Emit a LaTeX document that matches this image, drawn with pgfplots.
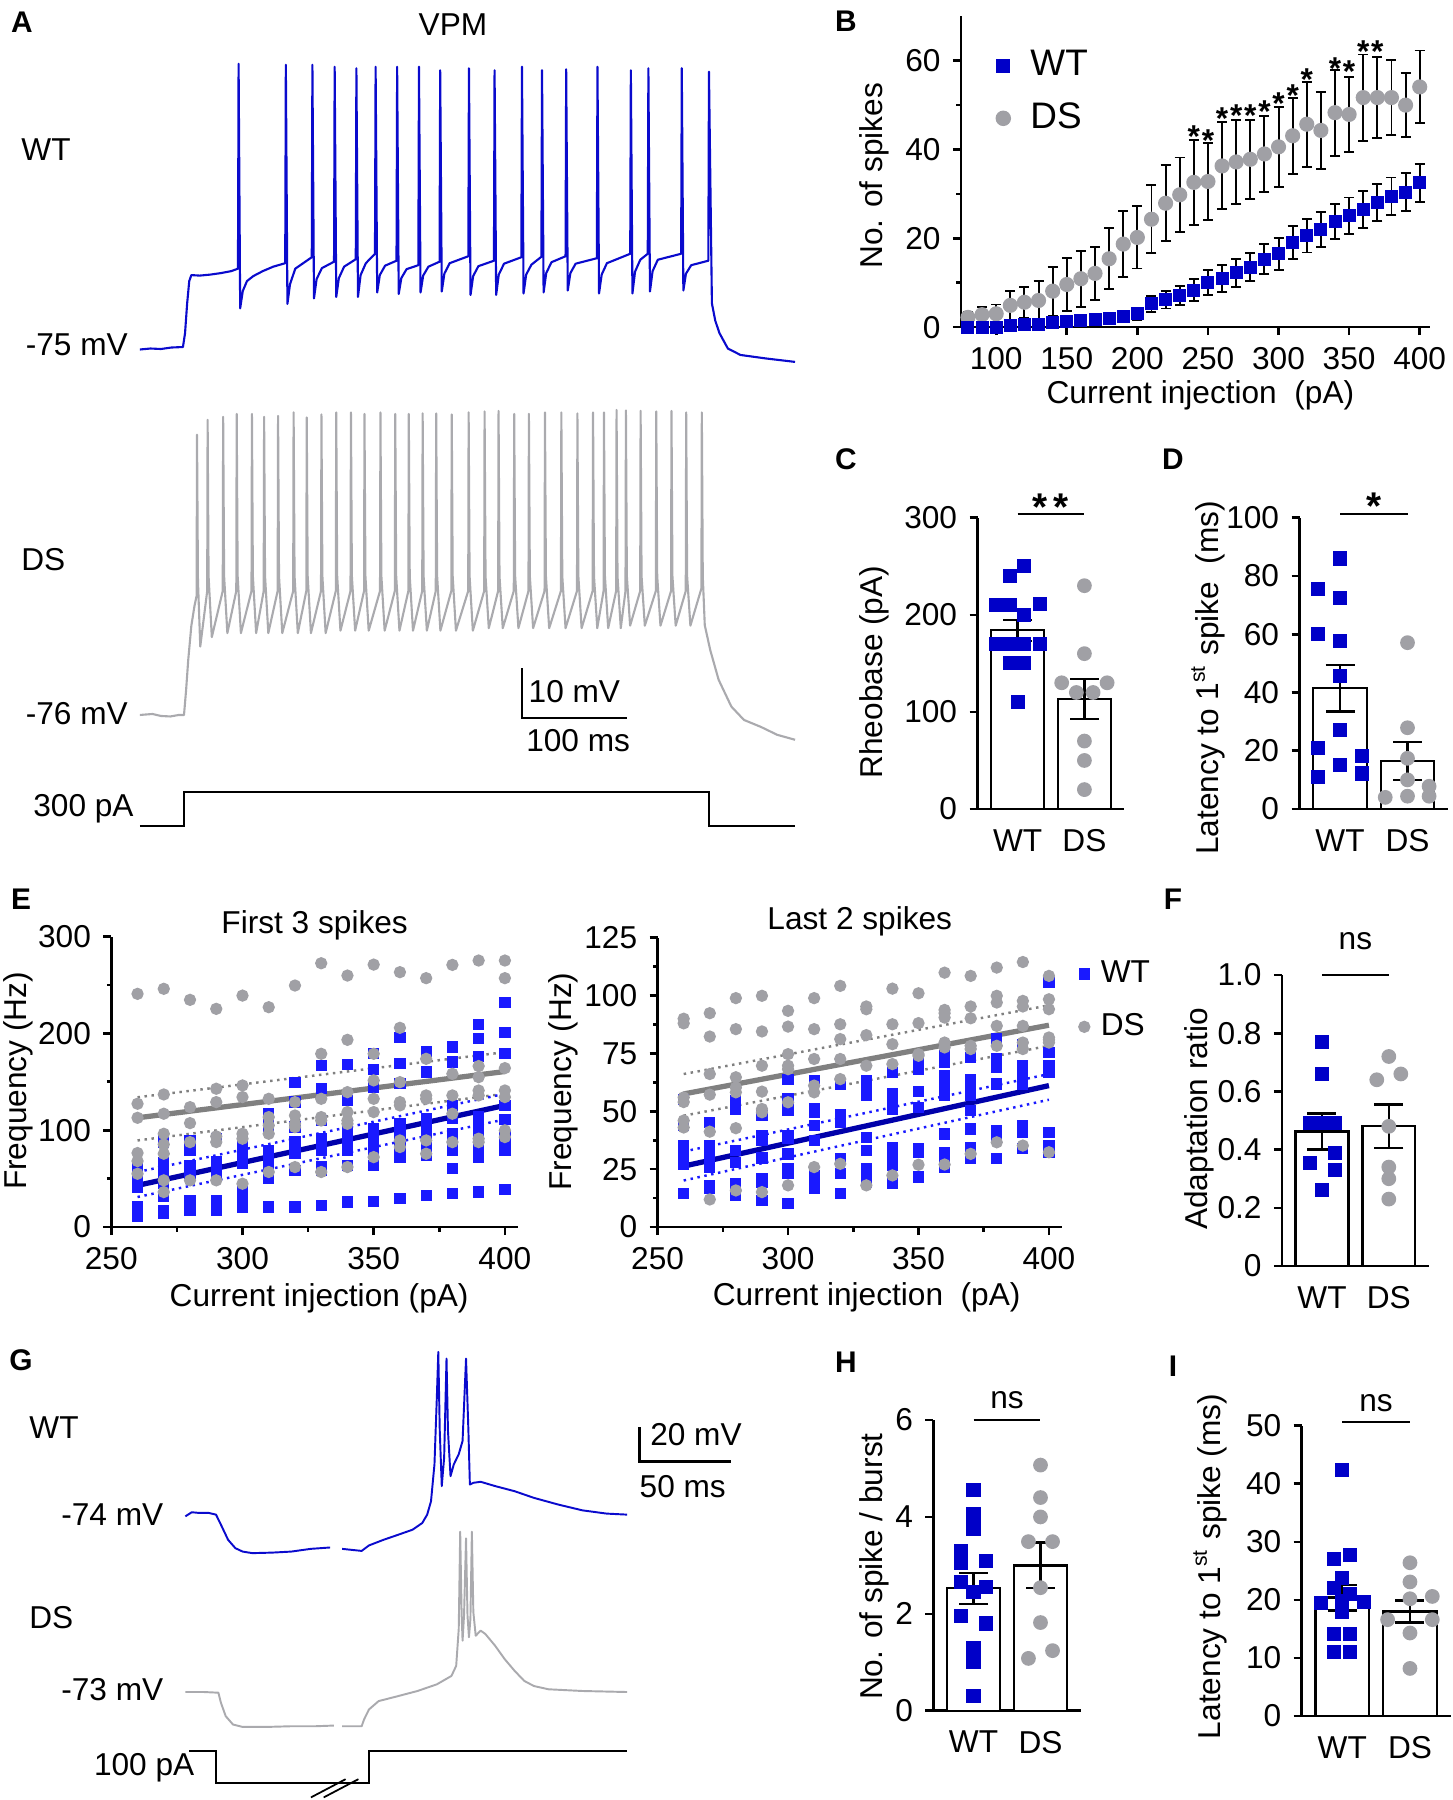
\documentclass[border=0pt]{standalone}
\usepackage{fontspec}
\setmainfont{Liberation Sans}
\usepackage{pgfplots}
\pgfplotsset{compat=1.18}

\definecolor{wtblue}{RGB}{0,0,200}
\definecolor{dsgray}{RGB}{160,160,165}
\definecolor{tblue}{RGB}{10,10,205}
\definecolor{tgray}{RGB}{170,170,174}
\definecolor{eblue}{RGB}{25,25,255}
\definecolor{lblue}{RGB}{0,0,170}
\definecolor{lgray}{RGB}{128,128,128}

\newcommand{\fs}{\fontsize{9}{10.8}\selectfont}

\pgfplotsset{
  gp/.style={scale only axis, anchor=south west, clip=false,
    axis lines=left, axis line style={-, line width=0.75pt, black},
    tick align=outside, major tick length=0.8mm, minor tick length=0.45mm,
    tick style={black, line width=0.75pt},
    tick label style={font=\fs, black},
    label style={font=\fs},
    /pgf/number format/assume math mode=true},
  barax/.style={gp, xmin=0.4, xmax=2.6, ymin=0, xtick={1,2}, xticklabels={WT,DS},
    xtick style={draw=none}},
  bars/.style={ybar, bar width=0.79, bar shift=0pt, fill=white, draw=black, line width=0.65pt},
  sem/.style={draw=none, mark=none,
    error bars/y dir=both, error bars/y explicit,
    error bars/error bar style={draw=black, line width=0.65pt},
    error bars/error mark options={draw=black, rotate=90, line width=0.65pt, mark size=1.45mm}},
  bsem/.style={error bars/y dir=both, error bars/y explicit,
    error bars/error bar style={draw=black, line width=0.55pt},
    error bars/error mark options={draw=black, rotate=90, line width=0.55pt, mark size=0.5mm}},
  wtpts/.style={only marks, mark=square*, mark size=1.8pt, mark options={draw=wtblue, fill=wtblue}},
  dspts/.style={only marks, mark=*, mark size=1.9pt, mark options={draw=dsgray, fill=dsgray}},
  ewt/.style={only marks, mark=square*, mark size=1.4pt, mark options={draw=eblue, fill=eblue}},
  eds/.style={only marks, mark=*, mark size=1.55pt, mark options={draw=dsgray, fill=dsgray}},
  sig/.style={black, line width=0.65pt, mark=none},
  trace/.style={hide axis, anchor=south west, clip=false},
}

\begin{document}
\begin{tikzpicture}[font=\fs]
\path[use as bounding box] (0,0) rectangle (145.3mm,-180mm);

% panel letters
\foreach \l/\x/\y in {A/2.2/-2.2, B/84.6/-2.1, C/84.6/-45.9, D/117.3/-45.9, E/2.1/-89.9, F/117.3/-89.9, G/2.1/-136.0, H/84.6/-136.2, I/117.3/-136.6}
  \node[font=\bfseries\fontsize{8.5}{10}\selectfont] at (\x mm,\y mm) {\l};

% panel A and G texts
\begin{scope}[every node/.style={inner sep=0pt}]
\node at (45.3mm,-2.5mm) {VPM};
\node[anchor=west] at (2.07mm,-14.92mm) {WT};
\node[anchor=east] at (12.85mm,-34.43mm) {-75 mV};
\node[anchor=west] at (2.07mm,-56.0mm) {DS};
\node[anchor=east] at (12.85mm,-71.39mm) {-76 mV};
\node[anchor=west] at (52.8mm,-69.2mm) {10 mV};
\node[anchor=west] at (52.56mm,-74.03mm) {100 ms};
\node[anchor=east] at (13.43mm,-80.9mm) {300 pA};
\node[anchor=west] at (2.87mm,-142.8mm) {WT};
\node[anchor=east] at (16.4mm,-151.5mm) {-74 mV};
\node[anchor=west] at (2.87mm,-161.8mm) {DS};
\node[anchor=east] at (16.4mm,-169.0mm) {-73 mV};
\node[anchor=east] at (19.5mm,-176.75mm) {100 pA};
\node[anchor=west] at (64.96mm,-143.46mm) {20 mV};
\node[anchor=west] at (63.9mm,-148.63mm) {50 ms};
\end{scope}

% ---------------- A: WT trace
\begin{axis}[trace, at={(13.99mm,-37.28mm)}, x=0.105mm, y=0.496mm, xmin=-42, xmax=582, ymin=-80, ymax=-15]
\addplot[tblue, line width=0.6pt, line join=round] coordinates {
(-42,-75.3) (-32,-75.1) (-22,-75.2) (-12,-74.9) (-1,-74.8) (1,-72) (3,-66) (5,-61.5) (7,-60.3) (15,-60.4) (25,-60.2) (35,-59.9) (45,-59.5) (51.4,-59)
(52,-17.7) (53.5,-67) (56,-63.5) (60,-61.5) (66,-60.5) (75,-59.5) (85,-58.6) (96.4,-57.9)
(97,-17.9) (98.5,-66.1) (101,-62.1) (106,-59) (121.7,-56.7)
(122.3,-17.9) (123.8,-65) (126.3,-61.1) (131.3,-58.9) (142.9,-57.6)
(143.5,-18.3) (145,-64.7) (147.5,-60.9) (152.5,-58.6) (163.6,-57.1)
(164.2,-18.6) (165.7,-64.7) (168.2,-60.3) (173.2,-57.9) (181.9,-56)
(182.5,-18.3) (184,-63.8) (186.5,-60.3) (191.5,-58.4) (202.4,-57.4)
(203,-18.3) (204.5,-64.1) (207,-60.9) (212,-59.1) (223.2,-58.3)
(223.8,-18.3) (225.3,-63.8) (227.8,-60.4) (232.8,-58.6) (243.4,-57.6)
(244,-19) (245.5,-63.6) (248,-60) (253,-57.9) (270.8,-56.5)
(271.4,-18.6) (272.9,-64.3) (275.4,-60.5) (280.4,-58.5) (295.2,-57.4)
(295.8,-19) (297.3,-64.3) (299.8,-60.2) (304.8,-58) (321.3,-56.7)
(321.9,-18.3) (323.4,-64) (325.9,-60.2) (330.9,-58.2) (340.4,-56.6)
(341,-19) (342.5,-63.8) (345,-59.9) (350,-57.7) (363.4,-56.5)
(364,-18.8) (365.5,-63.4) (368,-59.9) (373,-58) (393.2,-56.9)
(393.8,-18.3) (395.3,-64) (397.8,-60.2) (402.8,-57.9) (425,-56)
(425.6,-19) (427.1,-64) (429.6,-59.6) (434.6,-57.2) (441.7,-56)
(442.3,-18.6) (443.8,-63.6) (446.3,-59.5) (451.3,-57.2) (473.5,-56)
(474.1,-18.6) (475.6,-63.4) (478.1,-60) (483.1,-58.3) (499.4,-57.4)
(500,-19.3) (502.8,-66) (506,-69.5) (510,-72) (518,-75.1) (530,-76.4) (554,-77.1) (582,-77.8)
};
\end{axis}

% ---------------- A: DS trace + scale bar
\begin{axis}[trace, at={(13.99mm,-75.96mm)}, x=0.105mm, y=0.496mm, xmin=-42, xmax=582, ymin=-85, ymax=-10]
\addplot[tgray, line width=0.6pt, line join=round] coordinates {
(-42,-76) (-30,-75.8) (-22,-76.2) (-13,-76.3) (-5,-76) (0,-76) (2,-71) (4,-65) (7,-58) (10,-54) (12,-52)
(12.4,-19.5) (13.3,-49) (15.5,-62.2) (22.1,-51)
(22.5,-16.5) (23.4,-48) (26.5,-60.3) (36.9,-51)
(37.3,-15.9) (38.2,-48) (41.3,-59.5) (49.8,-51)
(50.2,-15.3) (51.1,-48) (54.2,-59.5) (64.3,-51)
(64.7,-15.3) (65.6,-48) (68.7,-59.5) (75.9,-51)
(76.3,-15.9) (77.2,-48) (80.3,-59.5) (89.2,-51)
(89.6,-15.7) (90.5,-48) (93.6,-59.5) (104,-51)
(104.4,-15) (105.3,-48) (108.4,-59.5) (116.5,-51)
(116.9,-16) (117.8,-48) (120.9,-59.5) (130.5,-51)
(130.9,-15.4) (131.8,-48) (134.9,-59.5) (144.6,-51)
(145,-15) (145.9,-48) (149,-59) (158.6,-51)
(159,-15) (159.9,-48) (163,-59) (171.5,-51)
(171.9,-15.3) (172.8,-48) (175.9,-59) (186.7,-51)
(187.1,-15) (188,-48) (191.1,-59) (200.8,-51)
(201.2,-15.3) (202.1,-48) (205.2,-59) (213.7,-51)
(214.1,-15.3) (215,-48) (218.1,-59) (226.9,-51)
(227.3,-15.2) (228.2,-48) (231.3,-59) (239.8,-51)
(240.2,-15.2) (241.1,-48) (244.2,-59) (254.6,-51)
(255,-15.4) (255.9,-48) (259,-59) (270.7,-51)
(271.1,-15) (272,-48) (275.1,-59) (285.9,-51)
(286.3,-14.8) (287.2,-48) (290.3,-58.5) (299.2,-51)
(299.6,-14.7) (300.5,-48) (303.6,-58.5) (314.1,-51)
(314.5,-15.3) (315.4,-48) (318.5,-58.5) (328.1,-51)
(328.5,-15.3) (329.4,-48) (332.5,-58.5) (343.4,-51)
(343.8,-15) (344.7,-48) (347.8,-58.5) (359,-51)
(359.4,-15) (360.3,-48) (363.4,-58.5) (374.3,-51)
(374.7,-15.2) (375.6,-48) (378.7,-58.5) (389.2,-51)
(389.6,-15) (390.5,-48) (393.6,-58.5) (399.6,-51)
(400,-15) (400.9,-48) (404,-58.5) (411.6,-51)
(412,-14.5) (412.9,-48) (416,-58.5) (420.5,-51)
(420.9,-14.6) (421.8,-48) (424.9,-58) (434.5,-51)
(434.9,-14.7) (435.8,-48) (438.9,-58) (449.4,-51)
(449.8,-14.8) (450.7,-48) (453.8,-58) (463.9,-51)
(464.3,-14.7) (465.2,-48) (468.3,-58) (477.9,-51)
(478.3,-15) (479.2,-48) (482.3,-58) (492.8,-50.5)
(493.2,-15) (494.1,-48) (496,-57.9) (501.2,-62.9) (509.2,-68.9) (521.3,-74.3) (533.3,-77) (549.4,-78.4) (565,-80) (582,-81)
};
\addplot[black, line width=0.7pt] coordinates {(322,-66.6) (322,-76.6) (422,-76.6)};
\end{axis}

% ---------------- A: stimulus
\begin{axis}[trace, at={(13.99mm,-82.83mm)}, x=0.105mm, y=0.01133mm, xmin=-42, xmax=582, ymin=-20, ymax=320]
\addplot[black, line width=0.75pt] coordinates {(-42,0) (0,0) (0,300) (500,300) (500,0) (582,0)};
\end{axis}

% ---------------- B
\begin{axis}[gp, at={(96.09mm,-32.71mm)}, width=46.87mm, height=31.08mm,
  xmin=75, xmax=407, ymin=0, ymax=70,
  xtick={100,150,...,400}, ytick={0,20,40,60}, minor ytick={10,30,50},
  xlabel={Current injection\ \ (pA)}, ylabel={No. of spikes},
  every axis x label/.style={at={(axis description cs:0.511,-0.218)}, anchor=center},
  every axis y label/.style={at={(axis description cs:-0.184,0.487)}, rotate=90, anchor=center},
  legend cell align=left,
  legend style={at={(axis description cs:0.074,0.899)}, anchor=north west, draw=none, fill=none,
    inner sep=0pt, row sep=1.74mm, font=\fontsize{10.5}{12.6}\selectfont, nodes={inner sep=0.6pt}}]
\addplot[dspts, mark size=1.95pt, bsem, forget plot] coordinates {
(80,2.2)+-(0,1.2) (90,2.8)+-(0,1.8) (100,3.0)+-(0,2.1) (110,4.9)+-(0,3.2) (120,5.6)+-(0,3.5)
(130,6.0)+-(0,4.3) (140,8.1)+-(0,5.5) (150,9.6)+-(0,5.9) (160,10.9)+-(0,6.3) (170,12.1)+-(0,6.0)
(180,15.4)+-(0,6.9) (190,18.7)+-(0,7.5) (200,20.2)+-(0,7.0) (210,24.3)+-(0,7.7) (220,27.9)+-(0,8.6)
(230,29.8)+-(0,8.4) (240,32.6)+-(0,9.5) (250,32.8)+-(0,8.6) (260,36.3)+-(0,9.8) (270,37.2)+-(0,9.5)
(280,37.8)+-(0,8.9) (290,39.0)+-(0,8.5) (300,40.6)+-(0,9.0) (310,43.1)+-(0,8.6) (320,45.7)+-(0,9.6)
(330,44.3)+-(0,8.7) (340,48.3)+-(0,9.7) (350,47.9)+-(0,8.5) (360,51.7)+-(0,9.7) (370,51.7)+-(0,9.1)
(380,51.7)+-(0,8.4) (390,50.0)+-(0,7.2) (400,54.1)+-(0,8.2)
};
\addplot[wtpts, mark size=1.65pt, bsem, forget plot] coordinates {
(80,0)+-(0,0.2) (90,0)+-(0,0.2) (100,0)+-(0,0.2) (110,0.3)+-(0,0.3) (120,0.5)+-(0,0.4)
(130,0.7)+-(0,0.5) (140,1.0)+-(0,0.6) (150,1.2)+-(0,0.7) (160,1.4)+-(0,0.8) (170,1.7)+-(0,0.9)
(180,2.0)+-(0,1.0) (190,2.5)+-(0,1.2) (200,3.0)+-(0,1.4) (210,5.3)+-(0,1.8) (220,6.2)+-(0,2.0)
(230,7.1)+-(0,2.2) (240,8.3)+-(0,2.5) (250,10.0)+-(0,2.8) (260,11.0)+-(0,3.0) (270,12.2)+-(0,3.1)
(280,13.5)+-(0,3.2) (290,15.3)+-(0,3.4) (300,16.5)+-(0,3.6) (310,19.0)+-(0,3.7) (320,20.6)+-(0,3.8)
(330,22.0)+-(0,3.9) (340,23.8)+-(0,4.0) (350,25.1)+-(0,4.1) (360,26.5)+-(0,4.1) (370,28.0)+-(0,4.2)
(380,29.5)+-(0,4.2) (390,30.4)+-(0,4.3) (400,32.5)+-(0,4.3)
};
\addlegendimage{only marks, mark=square*, mark size=1.8pt, mark options={draw=wtblue, fill=wtblue}}
\addlegendentry{\hspace{1.8mm}WT}
\addlegendimage{only marks, mark=*, mark size=2pt, mark options={draw=dsgray, fill=dsgray}}
\addlegendentry{\hspace{1.8mm}DS}
\foreach \sx/\sy in {240/40.45, 250/39.65, 260/44.55, 270/45.15, 280/45.15, 290/46.05, 300/47.95, 310/49.65, 320/53.35, 340/55.75, 350/55.05, 360/59.65, 370/59.65}
  {\edef\temp{\noexpand\node[anchor=base, inner sep=0pt, font=\noexpand\bfseries\noexpand\fs] at (axis cs:\sx,\sy) {*};}\temp}
\end{axis}

% ---------------- C
\begin{axis}[barax, at={(97.75mm,-80.9mm)}, width=14.7mm, height=29.13mm, ymax=300, ytick={0,100,200,300},
  ylabel={Rheobase (pA)},
  every axis y label/.style={at={(axis description cs:-0.704,0.47)}, rotate=90, anchor=center}]
\addplot[bars] coordinates {(1,184) (2,113.5)};
\addplot[wtpts] coordinates {(1.10,250) (0.89,240) (0.67,210) (0.89,210) (1.33,211) (1.10,200) (0.67,170) (0.89,170) (1.10,170) (1.33,170) (0.89,150) (1.10,150) (1.0,110)};
\addplot[dspts] coordinates {(2,230) (2,160) (1.66,130) (2.34,130) (1.88,120) (2.13,120) (2,70) (2,50) (2,20)};
\addplot[sem] coordinates {(1,184) +- (0,11) (2,113.5) +- (0,20.5)};
\addplot[sig] coordinates {(1,304) (2,304)};
\node[anchor=base, inner sep=0pt, font=\bfseries\fontsize{11}{11}\selectfont] at (axis cs:1.5,297) {*\kern0.6mm*};
\end{axis}

% ---------------- D
\begin{axis}[barax, at={(129.95mm,-80.9mm)}, width=14.85mm, height=29.13mm, ymax=100, ytick={0,20,40,60,80,100},
  ylabel={Latency to 1\textsuperscript{st} spike\ \ (ms)},
  every axis y label/.style={at={(axis description cs:-0.616,0.45)}, rotate=90, anchor=center}]
\addplot[bars] coordinates {(1,41.5) (2,16.5)};
\addplot[wtpts] coordinates {(1,86) (0.68,75.4) (1,72.3) (0.68,60.1) (1,57.8) (1,45.8) (1,27.1) (0.68,20.8) (1.33,18.2) (1,15.1) (0.68,11.1) (1.33,12.2)};
\addplot[dspts] coordinates {(2,57.1) (2,27.9) (2,17.4) (2,10) (2.32,7.8) (1.67,4) (2,4.4) (2.32,4.4)};
\addplot[sem] coordinates {(1,41.5) +- (0,8) (2,16.5) +- (0,6.5)};
\addplot[sig] coordinates {(1,101.3) (2,101.3)};
\node[anchor=base, inner sep=0pt, font=\bfseries\fontsize{11}{11}\selectfont] at (axis cs:1.5,99.4) {*};
\end{axis}

% ---------------- E left
\begin{axis}[gp, at={(11.13mm,-122.7mm)}, width=40.67mm, height=29.05mm,
  xmin=250, xmax=405, ymin=0, ymax=300,
  xtick={250,300,350,400}, minor xtick={275,325,375}, ytick={0,100,200,300}, minor ytick={50,150,250},
  title={First 3 spikes}, xlabel={Current injection (pA)}, ylabel={Frequency (Hz)},
  every axis title/.style={at={(axis description cs:0.5,1.04)}, anchor=center, font=\fs},
  every axis x label/.style={at={(axis description cs:0.511,-0.244)}, anchor=center},
  every axis y label/.style={at={(axis description cs:-0.228,0.503)}, rotate=90, anchor=center}]
\addplot[ewt] coordinates {
(260,62.6)(260,59.2)(260,55)(260,49.9)(260,44.7)(260,41.3)(260,21.3)(260,17.9)(260,14.4)(260,11)
(270,91.2)(270,87.7)(270,66)(270,60.2)(270,55)(270,49.9)(270,44.7)(270,31.6)(270,17.2)(270,13.8)
(280,89.4)(280,79.1)(280,63.6)(280,55)(280,27.5)(280,22.4)(280,17.2)
(290,91.2)(290,67.1)(290,61.9)(290,55)(290,27.5)(290,22.4)(290,17.2)
(300,87.7)(300,82.6)(300,75.7)(300,72.2)(300,65.4)(300,37.8)(300,31)(300,25.8)(300,20.6)
(310,117)(310,110)(310,101.5)(310,79.1)(310,72.2)(310,61.9)(310,49.9)(310,20.6)
(320,149.6)(320,129)(320,103.2)(320,87.7)(320,82.6)(320,75.7)(320,58.5)(320,20.6)
(330,166.8)(330,142.8)(330,110)(330,91.2)(330,87.7)(330,79.1)(330,61.9)(330,58.5)(330,22.4)
(340,167.9)(340,130.7)(340,101.5)(340,91.2)(340,86)(340,79.1)(340,63.6)(340,25.8)
(350,178.9)(350,162.4)(350,144.5)(350,101.5)(350,96.3)(350,89.4)(350,82.6)(350,75.7)(350,63.6)(350,26.5)
(360,196.1)(360,169.2)(360,147.9)(360,106.6)(360,99.8)(360,89.4)(360,79.1)(360,72.2)(360,29.2)
(370,181.3)(370,160)(370,111.8)(370,103.2)(370,96.3)(370,89.4)(370,84.3)(370,74)(370,32.7)
(380,185.8)(380,170.3)(380,125.6)(380,111.8)(380,96.3)(380,87.7)(380,79.1)(380,60.2)(380,34.4)
(390,209.2)(390,194.4)(390,176.1)(390,113.5)(390,103.2)(390,94.6)(390,82.6)(390,72.2)(390,36.1)
(400,232.2)(400,201.2)(400,178.9)(400,125.6)(400,111.1)(400,94.6)(400,87.7)(400,79.1)(400,38.5)
};
\addplot[eds] coordinates {
(260,240.8)(260,127.3)(260,112.8)(260,76.4)(260,68.1)(260,55)
(270,246)(270,136.9)(270,117)(270,96.3)(270,85.3)(270,75.7)(270,48.2)(270,36.1)
(280,234.6)(280,123.8)(280,107.3)(280,87.7)(280,48.2)
(290,225.3)(290,142.8)(290,129)(290,93.6)(290,87.7)(290,48.2)
(300,239)(300,146.2)(300,134.2)(300,96.3)(300,91.2)(300,44.7)
(310,227)(310,132.4)(310,113.5)(310,104.9)(310,96.3)(310,56.8)
(320,249.4)(320,129)(320,115.2)(320,106.6)(320,103.2)(320,61.9)
(330,272.4)(330,178.9)(330,132.4)(330,113.5)(330,110)(330,56.8)
(340,259.7)(340,193.3)(340,139.3)(340,118.7)(340,110)(340,106.6)(340,61.9)
(350,271)(350,178.9)(350,151.4)(350,132.4)(350,118.7)(350,72.2)
(360,263.2)(360,205.7)(360,149.6)(360,129)(360,125.6)(360,89.4)(360,82.6)
(370,257)(370,173.7)(370,135.9)(370,132.4)(370,89.4)(370,75.7)
(380,270.7)(380,158.2)(380,135.9)(380,117)(380,87.7)
(390,275.2)(390,166.2)(390,154.8)(390,141)(390,135.9)(390,91.2)(390,87.7)
(400,275.2)(400,257)(400,164.1)(400,141)(400,134.2)(400,99.8)(400,92.9)
};
\addplot[lgray, line width=0.7pt, dash pattern=on 0.7pt off 1.3pt] coordinates {(260,134) (400,180.6)};
\addplot[lgray, line width=0.7pt, dash pattern=on 0.7pt off 1.3pt] coordinates {(260,89.4) (400,137.6)};
\addplot[eblue, line width=0.7pt, dash pattern=on 0.7pt off 1.3pt] coordinates {(260,56.8) (400,137.6)};
\addplot[eblue, line width=0.7pt, dash pattern=on 0.7pt off 1.3pt] coordinates {(260,31) (400,111.1)};
\addplot[lgray, line width=1.5pt] coordinates {(260,112.8) (400,160.6)};
\addplot[lblue, line width=1.5pt] coordinates {(260,43) (400,125.6)};
\end{axis}

% ---------------- E right
\begin{axis}[gp, at={(65.76mm,-122.7mm)}, width=40.44mm, height=28.93mm,
  xmin=250, xmax=405, ymin=0, ymax=125,
  xtick={250,300,350,400}, minor xtick={275,325,375}, ytick={0,25,50,75,100,125}, minor ytick={12.5,37.5,62.5,87.5,112.5},
  title={Last 2 spikes}, xlabel={Current injection\ \ (pA)}, ylabel={Frequency (Hz)},
  every axis title/.style={at={(axis description cs:0.5,1.056)}, anchor=center, font=\fs},
  every axis x label/.style={at={(axis description cs:0.517,-0.244)}, anchor=center},
  every axis y label/.style={at={(axis description cs:-0.233,0.503)}, rotate=90, anchor=center},
  legend cell align=left,
  legend style={at={(axis description cs:1.04,0.931)}, anchor=north west, draw=none, fill=none,
    inner sep=0pt, row sep=2.14mm, font=\fs, nodes={inner sep=0.6pt}}]
\addplot[ewt, forget plot] coordinates {
(260,55)(260,44)(260,35)(260,33.5)(260,29)(260,27)(260,14.5)
(270,45.3)(270,35.2)(270,33.8)(270,29.5)(270,25.9)(270,18)(270,16.8)
(280,54.6)(280,51)(280,33)(280,28)(280,18.7)(280,13.6)
(290,48.1)(290,39.5)(290,37.4)(290,30.2)(290,29.5)(290,20.8)(290,19.4)(290,11.5)
(300,63.9)(300,55.3)(300,50.3)(300,39.5)(300,38.1)(300,31.6)(300,25.1)(300,23)(300,10.1)
(310,63.2)(310,51)(310,49.6)(310,43.8)(310,37.4)(310,22.3)(310,20.8)(310,16.5)
(320,61.8)(320,48.4)(320,45.3)(320,29.5)(320,23)(320,14.4)
(330,63.2)(330,58.9)(330,56.8)(330,38.8)(330,33)(330,25.1)(330,23)(330,20.8)(330,19.4)
(340,66.8)(340,57.5)(340,54.6)(340,51)(340,34.5)(340,29.5)(340,26.6)(340,18.7)
(350,72.6)(350,68.2)(350,58.5)(350,51.7)(350,33.8)(350,32.3)(350,21.6)
(360,74)(360,71.1)(360,65.4)(360,61.1)(360,58.9)(360,56.8)(360,40.2)(360,32.3)(360,30.2)(360,25.9)
(370,73.3)(370,63.9)(370,59.6)(370,56.8)(370,50.3)(370,42.4)(370,34.5)(370,32.3)(370,29.5)
(380,81.2)(380,72.6)(380,69)(380,61.8)(380,41.7)(380,39.5)(380,29.5)
(390,79)(390,69.7)(390,66.1)(390,61.8)(390,43.8)(390,40.9)(390,33.8)
(400,105.9)(400,75.4)(400,69.7)(400,66.8)(400,40.9)(400,35.2)(400,32.3)
};
\addplot[eds, forget plot] coordinates {
(260,90)(260,88)(260,56)(260,54)(260,46)(260,43)
(270,92.4)(270,82.3)(270,66.1)(270,57.2)(270,41.2)(270,11.9)
(280,98.9)(280,85.5)(280,64.7)(280,60.3)(280,58.2)(280,42.7)(280,15.8)
(290,99.9)(290,84.5)(290,69.7)(290,58.5)(290,51)(290,49.6)(290,15.1)
(300,93.4)(300,86.6)(300,74.7)(300,69.7)(300,68.2)(300,53.9)(300,18)
(310,98.9)(310,85.5)(310,72.6)(310,61.1)(310,58.2)(310,25.9)
(320,104.2)(320,87.6)(320,81.2)(320,72.6)(320,63.9)(320,27.3)
(330,95.3)(330,94.1)(330,82.9)(330,69.7)(330,18)
(340,103)(340,87.6)(340,79)(340,70.4)(340,22.3)
(350,101)(350,88.1)(350,74.7)(350,74)(350,26.9)
(360,109.9)(360,93.8)(360,92.4)(360,90.5)(360,79.7)(360,77.6)(360,27)
(370,108.5)(370,95.3)(370,90.2)(370,78.3)(370,76.9)(370,31.6)
(380,112.1)(380,99.9)(380,97)(380,86.9)(380,78.3)(380,36.6)
(390,114.5)(390,97.7)(390,95.3)(390,86.9)(390,79.7)(390,76.9)(390,35.2)
(400,108.5)(400,98.4)(400,94.1)(400,81.9)(400,80.9)(400,79.7)(400,32.3)
};
\addplot[lgray, line width=0.7pt, dash pattern=on 0.7pt off 1.3pt, forget plot] coordinates {(260,66.1) (400,95.8)};
\addplot[lgray, line width=0.7pt, dash pattern=on 0.7pt off 1.3pt, forget plot] coordinates {(260,48.1) (400,78.3)};
\addplot[eblue, line width=0.7pt, dash pattern=on 0.7pt off 1.3pt, forget plot] coordinates {(260,32.6) (400,66.1)};
\addplot[eblue, line width=0.7pt, dash pattern=on 0.7pt off 1.3pt, forget plot] coordinates {(260,20.1) (400,55)};
\addplot[lgray, line width=1.5pt, forget plot] coordinates {(260,57.5) (400,87.2)};
\addplot[lblue, line width=1.5pt, forget plot] coordinates {(260,26.3) (400,61.1)};
\addlegendimage{only marks, mark=square*, mark size=1.4pt, mark options={draw=eblue, fill=eblue}}
\addlegendentry{\hspace{0.9mm}WT}
\addlegendimage{only marks, mark=*, mark size=1.55pt, mark options={draw=dsgray, fill=dsgray}}
\addlegendentry{\hspace{0.9mm}DS}
\end{axis}

% ---------------- F
\begin{axis}[barax, at={(128.19mm,-126.6mm)}, width=14.7mm, height=29.1mm, ymax=1,
  ytick={0,0.2,0.4,0.6,0.8,1.0}, yticklabels={0,0.2,0.4,0.6,0.8,1.0},
  ylabel={Adaptation ratio},
  every axis y label/.style={at={(axis description cs:-0.564,0.505)}, rotate=90, anchor=center}]
\addplot[bars] coordinates {(1,0.462) (2,0.48)};
\addplot[wtpts] coordinates {(1,0.77) (1,0.66) (0.82,0.49) (1.0,0.49) (1.19,0.49) (1.19,0.39) (0.82,0.355) (1.19,0.33) (1,0.26)};
\addplot[dspts] coordinates {(2,0.72) (1.82,0.64) (2.18,0.66) (2,0.48) (2,0.34) (2,0.30) (2,0.23)};
\addplot[sem] coordinates {(1,0.462) +- (0,0.062) (2,0.48) +- (0,0.075)};
\addplot[sig] coordinates {(1,1.0) (2,1.0)};
\node[anchor=base, inner sep=0pt] at (axis cs:1.5,1.086) {ns};
\end{axis}

% ---------------- G: WT trace + scale bar
\begin{axis}[trace, at={(18.5mm,-155.91mm)}, x=0.1825mm, y=0.1711mm, xmin=-17, xmax=226, ymin=-100, ymax=25]
\addplot[tblue, line width=0.55pt, line join=round] coordinates {
(-16.8,-75) (-13.3,-72.6) (-9.3,-73) (-4,-73) (0,-74) (2.7,-79.9) (6.6,-88.7) (10.6,-93.6) (14.6,-95.6)
(19.9,-96.5) (30.6,-96.2) (41.2,-95.6) (51.9,-94) (62.5,-93.2)
};
\addplot[tblue, line width=0.55pt, line join=round] coordinates {
(69.1,-94) (79.8,-95.2) (83.8,-92) (91.8,-88.7) (99.7,-85.8) (107.7,-82.8) (113,-78.9) (115.7,-74)
(117.8,-66.2) (119.7,-44.6) (121,-5.4) (121.8,21.1) (122.6,-25) (123.7,-57.3) (125,-40.7) (126.3,17.2)
(127.1,-25) (128.5,-51.5) (130.3,-44.6) (133,-38.7) (135.1,-30.9) (137,17.2) (138.3,-25) (139.1,-56.4)
(141,-55.4) (145,-54.8) (152.9,-57.3) (163.6,-60.3) (174.2,-64.2) (187.5,-68.1) (200.8,-71.5) (214.1,-73.4) (225.3,-74)
};
\addplot[black, line width=0.7pt] coordinates {(232,-23) (232,-43) (282,-43)};
\end{axis}

% ---------------- G: DS trace
\begin{axis}[trace, at={(18.5mm,-173.82mm)}, x=0.1825mm, y=0.1711mm, xmin=-17, xmax=226, ymin=-100, ymax=25]
\addplot[tgray, line width=0.55pt, line join=round] coordinates {
(-16.8,-73) (-6.6,-73) (1.3,-73.4) (2.7,-79.3) (5.3,-87.1) (9.3,-92) (14.6,-93.4) (27.9,-93.4) (41.2,-93) (54.5,-93) (64.6,-92.6)
};
\addplot[tgray, line width=0.55pt, line join=round] coordinates {
(69.1,-93) (79.8,-93) (81.1,-89.1) (83.8,-83.2) (89.1,-78.3) (99.7,-75.4) (110.4,-72.4) (121,-68.5) (129,-63.6)
(131.6,-57.7) (133,-36.1) (133.8,20.7) (134.6,-28.3) (135.1,-43) (135.9,-28.3) (137,16.8) (137.8,-28.3)
(138.6,-41) (139.4,-30.3) (140.2,20.7) (141,-26.3) (142.3,-40.1) (145,-37.1) (147.6,-39.1) (152.9,-45.9)
(158.2,-53.8) (163.6,-60.6) (168.9,-66.5) (174.2,-69.5) (182.2,-71.4) (200.8,-72.4) (225.3,-73)
};
\end{axis}

% ---------------- G: stimulus
\begin{axis}[trace, at={(18.5mm,-178.62mm)}, x=0.1825mm, y=0.032mm, xmin=-17, xmax=226, ymin=-110, ymax=10]
\addplot[black, line width=0.7pt] coordinates {(-14.6,0) (0,0) (0,-100) (83.8,-100) (83.8,0) (225.3,0)};
\addplot[black, line width=0.5pt] coordinates {(52,-145) (71,-88)};
\addplot[black, line width=0.5pt] coordinates {(59,-145) (78,-88)};
\end{axis}

% ---------------- H
\begin{axis}[barax, at={(93.33mm,-171.07mm)}, width=14.74mm, height=29.07mm, ymax=6, ytick={0,2,4,6},
  ylabel={No. of spike / burst},
  every axis y label/.style={at={(axis description cs:-0.398,0.496)}, rotate=90, anchor=center}]
\addplot[bars] coordinates {(1,2.53) (2,3.0)};
\addplot[wtpts] coordinates {(1,4.55) (1,4.05) (1,3.75) (0.82,3.3) (0.82,3.05) (1.18,3.1) (0.82,2.65) (1.18,2.55) (1,2.45) (0.82,1.95) (1.18,1.8) (1,1.3) (1,1.0) (1,0.3)};
\addplot[dspts] coordinates {(2,5.07) (2,4.4) (2,4.0) (1.82,3.49) (2.18,3.49) (2,2.54) (2,1.82) (2.18,1.24) (1.82,1.08)};
\addplot[sem] coordinates {(1,2.53) +- (0,0.32) (2,3.0) +- (0,0.47)};
\addplot[sig] coordinates {(1,6) (2,6)};
\node[anchor=base, inner sep=0pt] at (axis cs:1.5,6.24) {ns};
\end{axis}

% ---------------- I
\begin{axis}[barax, at={(130.16mm,-171.6mm)}, width=14.9mm, height=29.03mm, ymax=50, ytick={0,10,20,30,40,50},
  ylabel={Latency to 1\textsuperscript{st} spike (ms)},
  every axis y label/.style={at={(axis description cs:-0.615,0.515)}, rotate=90, anchor=center}]
\addplot[bars] coordinates {(1,20.4) (2,18)};
\addplot[wtpts] coordinates {(1,42.4) (1.11,27.7) (0.88,27) (1,23.7) (0.88,22) (1.11,21) (0.68,19.5) (1.32,19.7) (1,19.8) (1,18) (0.88,14.2) (1.11,14.2) (0.88,11.1) (1.11,11.1)};
\addplot[dspts] coordinates {(2,26.4) (2,23.1) (2,20.2) (2.33,20.6) (1.67,16.6) (2.33,16.6) (2,14.3) (2,8.2)};
\addplot[sem] coordinates {(1,20.4) +- (0,2.2) (2,18) +- (0,1.9)};
\addplot[sig] coordinates {(1,50.6) (2,50.6)};
\node[anchor=base, inner sep=0pt] at (axis cs:1.5,52.48) {ns};
\end{axis}

\end{tikzpicture}
\end{document}
